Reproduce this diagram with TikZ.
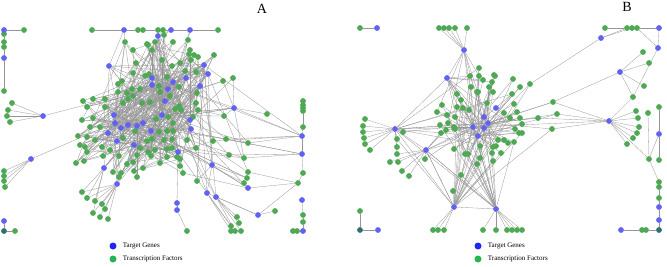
\documentclass[tikz,border=0pt]{standalone}
\usepackage{fontspec}
\setmainfont{Liberation Serif}
\usetikzlibrary{positioning, backgrounds}
\definecolor{tgblue}{RGB}{98,98,240}
\definecolor{tfgreen}{RGB}{78,168,84}
\definecolor{tgkey}{RGB}{30,40,240}
\definecolor{tfkey}{RGB}{40,180,85}
\definecolor{linkgray}{RGB}{150,150,150}
\definecolor{overlap}{RGB}{50,110,110}

\begin{document}
\begin{tikzpicture}[
    x=1pt, y=-1pt,
    tg/.style={circle, fill=tgblue, inner sep=0pt, minimum size=5.8pt},
    tf/.style={circle, fill=tfgreen, inner sep=0pt, minimum size=5.8pt},
    both/.style={circle, fill=overlap, inner sep=0pt, minimum size=5.8pt},
    link/.style={draw=linkgray, line width=0.3pt},
    key/.style={circle, inner sep=0pt, minimum size=7pt},
    keytext/.style={font=\fontsize{7}{8}\selectfont, inner sep=0pt},
    panel/.style={font=\fontsize{14}{14}\selectfont, inner sep=0pt}
  ]
  \useasboundingbox (0,0) rectangle (667,266);
  \pgfmathsetseed{11}

  % Panel labels
  \node[panel] (labA) at (262,9) {A};
  \node[panel] (labB) at (627,7) {B};

  % ===== Network A =====
  % Transcription factors, periphery
  \foreach \n/\x/\y in {aTLf/24/30, aLf1/4/34, aLf2/4/42, aLf3/4/47, aLf4/4/91,
      aT1a/92/30, aT1b/138/30, aT1c/143/30, aT2a/158/30, aT2b/163/30, aT3a/218/30,
      aF1a/12/103, aF1b/8/110, aF1c/7/116, aF1d/10/122,
      aF2a/4/171, aF2b/4/176, aF2c/4/181, aF2d/5/187, aBLf/15/231,
      aCf1/303/101, aCf2/303/105, aCf3/303/108, aCf4/303/111, aCf5/303/127,
      aCf6/303/173, aCf7/303/215, aCf8/303/222, aCf9/293/231, aCf10/297/231,
      aR1a/267/114, aR5a/298/183, aR6a/275/211,
      aR4a/231/226, aR4b/231/231, aR4c/235/231, aR4d/241/231, aR4e/239/223, aR4f/237/217,
      aR8a/187/231,
      aR9a/82/192, aR9b/87/198, aR9c/95/201, aR9d/93/213, aR9e/100/217, aR9f/108/219,
      aR9g/105/209, aR9h/102/204,
      aM1/213/141, aM2/226/139, aM3/248/143, aM4/229/155, aM5/244/158, aM6/248/172,
      aM7/247/178, aM8/244/183, aM9/197/181, aM10/183/173, aM11/224/116, aM12/223/81,
      aM13/233/78, aM14/137/177}
    \node[tf] (\n) at (\x,\y) {};

  % Transcription factors, dense core
  \foreach \x/\y [count=\i] in {125/42, 133/50, 147/44, 152/50, 155/42, 164/35, 173/42,
      188/40, 190/50, 194/55, 198/57, 214/55, 191/60, 180/63, 185/71, 196/72, 162/60,
      172/66, 136/63, 133/73, 145/76, 149/74, 167/77, 122/81, 118/84, 140/89, 159/86,
      179/87, 118/92, 132/89, 127/93, 133/96, 128/99, 123/103, 142/103, 150/102, 160/92,
      170/96, 197/93, 196/103, 83/101, 93/99, 105/99, 87/107, 105/107, 179/106, 175/109,
      181/110, 198/110, 193/117, 82/120, 93/118, 156/119, 168/117, 173/123, 90/127,
      100/127, 159/132, 167/131, 173/131, 78/136, 87/137, 95/140, 123/138, 135/131,
      147/141, 152/139, 164/140, 172/139, 187/140, 80/145, 85/147, 102/147, 110/150,
      140/148, 148/152, 155/150, 167/149, 196/148, 87/152, 103/156, 119/156, 137/155,
      151/156, 167/157, 177/157, 76/163, 84/161, 113/172, 121/173, 127/164, 133/162,
      134/171, 143/168, 119/177, 160/163, 172/148, 180/166, 180/159, 189/54, 148/45}
    {\node[tf] (cA\i) at (\x,\y) {}; \xdef\ncA{\i}}

  % Target genes, dense core
  \foreach \x/\y [count=\i] in {152/78, 152/85, 173/82, 168/89, 186/78, 200/86, 204/65,
      208/74, 165/101, 114/115, 115/123, 121/128, 128/125, 137/126, 143/123, 108/133,
      117/141, 134/145, 151/131, 162/115, 191/129, 190/120, 178/152, 158/36}
    {\node[tg] (bA\i) at (\x,\y) {}; \xdef\nbA{\i}}

  % Target genes, periphery
  \foreach \n/\x/\y in {aTL/4/30, aL/4/58, aT1/124/30, aT2/171/30, aT3/190/30,
      aF1/43/116, aF2/31/159, aBL/4/221, aH/109/66, aR1/234/108, aR2/212/165,
      aR3/207/193, aR4/216/197, aR5/248/188, aR6/258/215, aR7/177/203, aR8/177/210,
      aR9/117/184, aR10/104/168, aC1/302/136, aC2/302/154, aC3/302/200, aC4/303/231}
    \node[tg] (\n) at (\x,\y) {};
  \node[both] (aBL2) at (4,231) {};

  % ===== Network B =====
  % Transcription factors, periphery
  \foreach \n/\x/\y in {bTLf/360/28,
      bTopa/439/28, bTopb/444/28, bTopc/449/28, bTopd/455/28, bTope/467/28,
      bTRa/605/28, bTRb/627/28, bTRc/632/28, bTRd/637/28,
      bR1a/643/52, bR1b/649/63, bR1c/644/86, bR1d/633/97,
      bR2a/636/111, bR2b/638/118, bR2c/639/127, bR2d/637/133, bR2e/633/138, bR2f/627/144,
      bR3a/648/113, bR3b/649/159,
      bCa/659/107, bCb/659/160, bCc/659/182, bCd/659/187, bCe/659/198, bCg/642/230,
      bCh/646/230,
      bL1a/365/119, bL1b/363/126, bL1c/363/132, bL1d/364/138, bL1e/365/144, bL1f/370/150,
      bL1g/403/132,
      bL2a/397/139, bL2b/397/147, bL2c/397/154, bL2d/390/162, bL2e/398/162, bL2f/402/171,
      bL2g/409/176, bL2h/425/159,
      bB1a/433/230, bB1b/438/230, bB1c/444/230, bB1d/453/191, bB1e/461/175,
      bB2a/483/230, bB2b/496/230, bB2c/507/230, bB2d/512/230, bB2e/517/230, bB2f/522/230,
      bB2g/477/164, bBLa/360/211,
      bM1/553/102, bM2/552/129, bM3/557/114, bM4/538/118, bM5/530/84, bM6/520/87,
      bM7/513/79}
    \node[tf] (\n) at (\x,\y) {};

  % Transcription factors, dense core
  \foreach \x/\y [count=\i] in {479/68, 470/76, 479/76, 495/76, 483/80, 492/82, 471/87,
      478/92, 489/87, 493/92, 457/94, 512/94, 487/103, 461/100, 457/107, 463/108,
      469/110, 442/105, 437/112, 447/115, 455/117, 514/104, 504/113, 517/112, 510/118,
      520/118, 448/123, 455/129, 446/130, 441/133, 515/129, 522/133, 498/140, 504/140,
      508/143, 514/142, 480/146, 496/146, 440/125, 454/127, 454/149, 465/154, 468/154,
      480/158, 493/147, 492/153, 501/153, 493/161, 519/133, 522/124, 494/75, 477/92}
    {\node[tf] (cB\i) at (\x,\y) {}; \xdef\ncB{\i}}

  % Target genes, dense core
  \foreach \x/\y [count=\i] in {496/108, 484/117, 488/123, 473/127, 484/128, 478/136}
    {\node[tg] (bB\i) at (\x,\y) {}; \xdef\nbB{\i}}

  % Target genes, periphery
  \foreach \n/\x/\y in {bTL/377/28, bTop/464/50, bTR1/601/38, bTR2/659/28, bTR3/658/48,
      bR1/620/72, bR2/609/121, bR3/659/134, bR4/659/207, bR5/659/220, bR6/621/230,
      bL1/395/129, bL2/426/150, bH/447/78, bB1/454/207, bB2/496/209, bBL/378/230}
    \node[tg] (\n) at (\x,\y) {};
  \node[both] (bCf) at (659,230) {};
  \node[both] (bBLb) at (360,230) {};

  % Legends
  \node[key, fill=tgkey] (keyA1) at (113,246) {};
  \node[keytext, right=6pt of keyA1] (keyA1t) {Target Genes};
  \node[key, fill=tfkey] (keyA2) at (113,259) {};
  \node[keytext, right=6pt of keyA2] (keyA2t) {Transcription Factors};
  \node[key, fill=tgkey] (keyB1) at (478,246) {};
  \node[keytext, right=6pt of keyB1] (keyB1t) {Target Genes};
  \node[key, fill=tfkey] (keyB2) at (478,259) {};
  \node[keytext, right=6pt of keyB2] (keyB2t) {Transcription Factors};

  % Links
  \begin{scope}[on background layer]
    % A, fixed links
    \foreach \u/\v in {aTL/aTLf, aTL/aLf1, aLf1/aLf2, aLf2/aLf3, aLf3/aL, aL/aLf4,
        aT1a/aT1, aT1/aT1b, aT1b/aT1c, aT1c/aT2a, aT2a/aT2b, aT2b/aT2, aT2/aT3, aT3/aT3a,
        aF1/aF1a, aF1/aF1b, aF1/aF1c, aF1/aF1d, aF2/aF2a, aF2/aF2b, aF2/aF2c, aF2/aF2d,
        aBL/aBL2, aBL2/aBLf,
        aCf1/aCf2, aCf2/aCf3, aCf3/aCf4, aCf4/aCf5, aCf5/aC1, aC1/aC2, aC2/aCf6,
        aCf6/aR5a, aR5a/aR5, aR5a/aR6, aR6/aR6a, aR6/aR3, aC3/aCf7, aCf7/aCf8, aCf8/aC4,
        aCf9/aCf10, aCf10/aC4,
        aC1/aM1, aC1/aM2, aC1/aM3, aC2/aM4, aC2/aM5, aR1/aR1a, aR1/aM12, aR1/aM13,
        aR1/aM11, aR1/aM5, aR1/aC1, aR2/aM9, aR2/aR3, aR2/aM7, aR5/aM8, aR5/aR2,
        aR5/aM10, aM6/aR5a, aM3/aM2,
        aR3/aR4a, aR3/aR4b, aR3/aR4c, aR4/aR4c, aR4/aR4d, aR4/aR4e, aR4/aR4f, aR4/aR6,
        aR7/aR8, aR8/aR8a, aR7/bA23, aR9/aR9a, aR9/aR9b, aR9/aR9c, aR9/aR9d, aR9/aR9e,
        aR9/aR9f, aR9/aR9g, aR9/aR9h, aR10/aR9a, aR10/aR9b, aR10/aR9c, aR10/aR9d,
        aT1/aH, aT1/cA1, aT2/cA6, aT3/cA8, aT2/bA24, aT2b/bA24}
      \draw[link] (\u) -- (\v);

    % A, links into the core
    \foreach \n/\k in {aH/8, aF1/1, aF2/1, aR1/5, aR2/4, aR3/3, aR4/3, aR5/2, aR9/4,
        aR10/5, aM1/2, aM2/2, aM3/2, aM4/2, aM5/2, aM6/2, aM7/2, aM8/1, aM9/2, aM10/2,
        aM11/2, aM12/2, aM13/1, aM14/2, aT3/1, aC1/2, aC2/2, bA24/3}
      \foreach \r in {1,...,\k}
        {\pgfmathtruncatemacro{\j}{random(1,\nbA)}
         \draw[link] (\n) -- (bA\j);}

    % A, core
    \foreach \i in {1,...,\ncA}
      {\pgfmathtruncatemacro{\j}{random(1,\nbA)}
       \pgfmathtruncatemacro{\k}{random(1,\nbA)}
       \pgfmathtruncatemacro{\m}{random(1,\ncA)}
       \draw[link] (cA\i) -- (bA\j) (cA\i) -- (bA\k) (cA\i) -- (cA\m);}
    \foreach \i in {1,...,\nbA}
      \foreach \r in {1,2,3}
        {\pgfmathtruncatemacro{\j}{random(1,\ncA)}
         \draw[link] (bA\i) -- (cA\j);}

    % B, fixed links
    \foreach \u/\v in {bTLf/bTL, bTop/bTopa, bTop/bTopb, bTop/bTopc, bTop/bTopd,
        bTop/bTope, bTop/bH, bTRa/bTRb, bTRb/bTRc, bTRc/bTRd, bTRd/bTR2, bTR1/bTRb,
        bTR1/bTRc, bTR2/bTR3, bTRd/bTR3, bTR3/bR1d, bTR1/bM5,
        bR1/bR1a, bR1/bR1b, bR1/bR1c, bR1/bR1d, bR1d/bR2, bR1/bM1,
        bR2/bR2a, bR2/bR2b, bR2/bR2c, bR2/bR2d, bR2/bR2e, bR2/bR2f, bR2/bM1, bR2/bM2,
        bR2/bM3, bR2/bM4, bR2/bR3b, bR3a/bR3b,
        bCa/bR3, bR3/bCb, bR3b/bR3, bR3b/bCc, bCc/bCd, bCd/bCe, bCe/bR4, bR4/bR5,
        bR5/bCf, bR6/bCg, bCg/bCh, bCh/bCf,
        bL1/bL1a, bL1/bL1b, bL1/bL1c, bL1/bL1d, bL1/bL1e, bL1/bL1f, bL1/bL1g,
        bL1/bL2a, bL1/bL2b, bL1/bL2c, bL1/bL2, bL1/bH,
        bL2/bL2d, bL2/bL2e, bL2/bL2f, bL2/bL2g, bL2/bL2h, bL2/bL2c, bL2/bB2, bL2/bB1,
        bB1/bB1a, bB1/bB1b, bB1/bB1c, bB1/bB1d, bB1d/bB1e, bB1e/bB2,
        bB2/bB2a, bB2/bB2b, bB2/bB2c, bB2/bB2d, bB2/bB2e, bB2/bB2f, bB2/bB2g,
        bBLa/bBLb, bBLb/bBL}
      \draw[link] (\u) -- (\v);

    % B, links into the core
    \foreach \n/\k in {bL1/6, bL2/5, bB1/2, bB2/2, bH/6, bTop/4, bM1/2, bM2/2, bM3/2,
        bM4/2, bM5/2, bM6/2, bM7/2, bL1g/1, bL2h/1, bB2g/2, bB1e/1, bR2/1, bL2a/1}
      \foreach \r in {1,...,\k}
        {\pgfmathtruncatemacro{\j}{random(1,\nbB)}
         \draw[link] (\n) -- (bB\j);}
    \foreach \n/\k in {bL1/4, bL2/3, bH/5, bTop/3}
      \foreach \r in {1,...,\k}
        {\pgfmathtruncatemacro{\j}{random(1,\ncB)}
         \draw[link] (\n) -- (cB\j);}

    % B, core
    \foreach \i in {1,...,\ncB}
      {\pgfmathtruncatemacro{\j}{random(1,\nbB)}
       \pgfmathtruncatemacro{\k}{random(1,\nbB)}
       \draw[link] (cB\i) -- (bB\j) (cB\i) -- (bB\k);}
    \foreach \u/\v in {bB1/bB2, bB1/bB3, bB1/bB4, bB2/bB5, bB3/bB6, bB4/bB6, bB2/bB4}
      \draw[link] (\u) -- (\v);
  \end{scope}

\end{tikzpicture}
\end{document}
